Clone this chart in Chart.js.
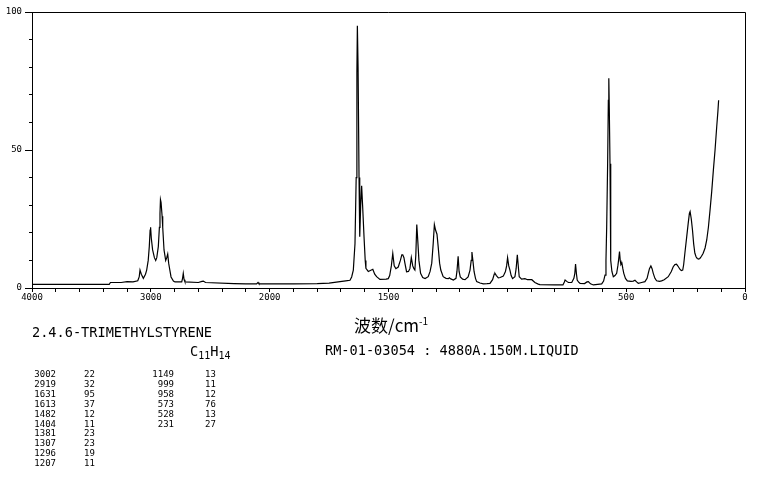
<!DOCTYPE html>
<html>
<head>
<meta charset="utf-8">
<script src="https://cdn.jsdelivr.net/npm/chart.js@4.4.1/dist/chart.umd.min.js"></script>
<style>
  html, body { margin: 0; padding: 0; background: #fff; }
  #wrap { position: relative; width: 761px; height: 477px; overflow: hidden; }
  #ramanChart { position: absolute; left: 0; top: 0; }
  .txt { position: absolute; font-family: "DejaVu Sans Mono", monospace; color: #000; white-space: pre; line-height: 1; }
  .cell { position: absolute; font-family: "DejaVu Sans Mono", monospace; font-size: 9px; line-height: 1; color: #000; }
  sub { font-size: 10px; vertical-align: -3px; line-height: 0; }
</style>
</head>
<body>
<div id="wrap">
  <canvas id="ramanChart" width="761" height="477"></canvas>
  <div class="txt" style="left:354px; top:316px; font-family:'Noto Sans CJK SC', sans-serif; font-size:17px;">波数/cm<sup style="font-size:10px; vertical-align:7px; line-height:0;">-1</sup></div>
  <div class="txt" style="left:32px; top:326px; font-size:13.6px;">2.4.6-TRIMETHYLSTYRENE</div>
  <div class="txt" style="left:190px; top:345px; font-size:13.6px;">C<sub>11</sub>H<sub>14</sub></div>
  <div class="txt" style="left:325px; top:344px; font-size:13.6px;">RM-01-03054 : 4880A.150M.LIQUID</div>
  <div id="peakTable"></div>
</div>

<script>
// spectrum (wavenumber in cm-1, intensity 0-100)
const wavenumbers = [
  4000, 3600, 3350, 3340, 3250, 3200, 3150, 3110, 3098, 3091, 3080, 3063, 3045, 3035, 3022, 3013,
  3006, 3002, 2996, 2985, 2970, 2959, 2950, 2937, 2928, 2923, 2919, 2914, 2905, 2900, 2889, 2875,
  2866, 2858, 2850, 2845, 2830, 2810, 2797, 2740, 2733, 2727, 2720, 2713, 2600, 2570, 2558, 2540,
  2300, 2200, 2110, 2098, 2090, 2000, 1900, 1800, 1750, 1704, 1680, 1662, 1655, 1648, 1641, 1636,
  1633, 1631, 1628, 1624, 1621, 1617, 1613, 1609, 1603, 1598, 1595, 1585, 1566, 1558, 1550, 1536,
  1510, 1501, 1495, 1488, 1482, 1476, 1469, 1459, 1450, 1444, 1440, 1435, 1431, 1424, 1416, 1410,
  1404, 1398, 1393, 1389, 1385, 1381, 1376, 1372, 1365, 1356, 1346, 1333, 1325, 1318, 1312, 1307,
  1302, 1296, 1291, 1285, 1280, 1270, 1258, 1248, 1244, 1238, 1227, 1216, 1212, 1207, 1203, 1198,
  1188, 1178, 1165, 1157, 1152, 1149, 1145, 1140, 1134, 1129, 1115, 1101, 1085, 1073, 1062, 1055,
  1052, 1046, 1038, 1030, 1017, 1008, 1003, 999, 994, 989, 984, 978, 968, 963, 958, 953,
  950, 940, 926, 915, 897, 884, 870, 863, 800, 766, 760, 757, 750, 743, 729, 720,
  716, 713, 709, 706, 700, 694, 675, 665, 659, 650, 638, 620, 603, 595, 589, 585,
  582, 578, 575, 573, 571, 568, 566, 564, 560, 554, 547, 540, 535, 532, 528, 525,
  522, 518, 514, 510, 503, 495, 480, 470, 463, 456, 449, 435, 421, 412, 407, 402,
  396, 391, 386, 379, 372, 360, 351, 340, 323, 310, 302, 295, 288, 281, 274, 268,
  262, 258, 253, 246, 239, 234, 231, 226, 221, 216, 211, 206, 201, 195, 190, 183,
  176, 168, 161, 154, 147, 140, 133, 126, 119, 114, 111
];
const intensities = [
  1.3, 1.3, 1.3, 2.0, 2.0, 2.3, 2.2, 2.6, 4, 6.5, 5, 3.5, 5, 6.5, 10, 15,
  21, 22, 18, 13.8, 11, 10, 11, 15, 22, 27, 32, 31, 26, 22, 13.8, 10,
  11, 12.3, 9, 7.7, 4, 2.5, 2.2, 2.2, 3.5, 5.3, 3, 2.2, 2.0, 2.4, 2.5, 2.0,
  1.6, 1.5, 1.5, 2.0, 1.5, 1.5, 1.5, 1.6, 1.8, 2.3, 2.6, 2.8, 4, 6.5, 16, 40,
  78, 95, 80, 40, 18.6, 30, 37, 30, 18.6, 10, 7.1, 6, 6.8, 5, 4.1, 3.1,
  3.2, 3.4, 4.5, 8, 12.5, 8, 7, 7.6, 10, 12, 12, 11, 9, 5.9, 6, 7,
  11, 8, 7, 6.5, 12, 23, 16, 10, 5.3, 3.8, 3.4, 4.1, 6, 9, 16, 23,
  21, 19.5, 15, 9, 6.5, 4.1, 3.5, 3.4, 3.7, 3.3, 2.9, 3.5, 6, 11.5, 6, 4,
  3.2, 3, 4, 6.5, 10, 13, 10, 6, 3.5, 2.3, 1.8, 1.5, 1.6, 1.7, 3, 5,
  5.3, 4.5, 3.7, 3.8, 4.3, 6, 8, 11, 8, 6.5, 4.5, 3.4, 4.1, 7, 12, 7,
  4.1, 3.2, 3.4, 3, 3, 2, 1.4, 1.2, 1.1, 1.1, 2.2, 2.9, 2.4, 2, 2, 3.5,
  5.3, 8.7, 5, 2.9, 2.1, 1.7, 1.6, 2.2, 2.3, 1.5, 1.1, 1.3, 1.5, 2.5, 4.7, 10,
  22, 45, 68, 76, 65, 45, 25, 10, 6, 4.1, 4.5, 5.3, 8, 10, 13.2, 10,
  8.5, 9, 7, 5.3, 3.5, 2.6, 2.4, 2.5, 2.8, 2.2, 1.7, 2, 2.3, 3.5, 5.3, 7,
  8, 7, 5.3, 3.5, 2.6, 2.4, 2.6, 3, 4.1, 6, 7.7, 8.5, 8.6, 7.8, 6.8, 6.3,
  6.5, 8.5, 12.6, 18, 23.4, 27, 27.7, 25, 21, 16, 12.6, 11.3, 10.7, 10.5, 10.7, 11.5,
  12.6, 14.5, 17.4, 22, 28.3, 35, 42.8, 50, 58.4, 64, 68
];

// peak list printed under the chart
const peakWn = [3002, 2919, 1631, 1613, 1482, 1404, 1381, 1307, 1296, 1207, 1149, 999, 958, 573, 528, 231];
const peakInt = [22, 32, 95, 37, 12, 11, 23, 23, 19, 11, 13, 11, 12, 76, 13, 27];

// tick labels
const xTickLabels = [4000, 3000, 2000, 1500, 500, 0];
const yTickLabels = [0, 50, 100];

// the axis is compressed 2:1 above 2000 cm-1
function toAxis(wn) {
  return wn >= 2000 ? (4000 - wn) / 2 : 1000 + (2000 - wn);
}
function fromAxis(u) {
  return u <= 1000 ? 4000 - 2 * u : 3000 - u;
}

const points = wavenumbers.map((wn, i) => ({ x: toAxis(wn), y: intensities[i] }));

const tickFont = { family: "DejaVu Sans Mono", size: 9 };

const framePlugin = {
  id: "frame",
  afterDraw(chart) {
    const { ctx, chartArea: a } = chart;
    ctx.save();
    ctx.strokeStyle = "#000";
    ctx.lineWidth = 1;
    ctx.beginPath();
    ctx.moveTo(a.left, a.top + 0.5);
    ctx.lineTo(a.right + 0.5, a.top + 0.5);
    ctx.lineTo(a.right + 0.5, a.bottom);
    ctx.stroke();
    ctx.restore();
  }
};

new Chart(document.getElementById("ramanChart"), {
  type: "line",
  data: {
    datasets: [{
      data: points,
      borderColor: "#000",
      borderWidth: 1.2,
      pointRadius: 0,
      tension: 0,
      fill: false
    }]
  },
  options: {
    responsive: false,
    animation: false,
    layout: { padding: { left: 0, top: 12, right: 16, bottom: 169 } },
    plugins: { legend: { display: false }, tooltip: { enabled: false } },
    scales: {
      x: {
        type: "linear",
        min: 0,
        max: 3000,
        afterFit: (s) => { s.height = 20; },
        grid: { drawOnChartArea: false, tickLength: 4, color: "#000" },
        border: { display: true, color: "#000", width: 1 },
        ticks: {
          stepSize: 100,
          autoSkip: false,
          maxRotation: 0,
          padding: 0,
          color: "#000",
          font: tickFont,
          callback: (v) => {
            const wn = Math.round(fromAxis(v));
            return xTickLabels.includes(wn) ? String(wn) : "";
          }
        }
      },
      yMinor: {
        type: "linear",
        position: "left",
        weight: 0,
        min: 0,
        max: 100,
        afterFit: (s) => { s.width = 0; },
        grid: { drawOnChartArea: false, tickLength: 3, color: "#000" },
        border: { display: false },
        ticks: { stepSize: 10, display: false }
      },
      y: {
        type: "linear",
        position: "left",
        weight: 1,
        min: 0,
        max: 100,
        afterFit: (s) => { s.width = 32; },
        grid: { drawOnChartArea: false, tickLength: 7, color: "#000" },
        border: { display: true, color: "#000", width: 1 },
        ticks: {
          stepSize: 50,
          padding: 3,
          color: "#000",
          font: tickFont,
          callback: (v) => yTickLabels.includes(v) ? String(v) : ""
        }
      }
    }
  },
  plugins: [framePlugin]
});

// peak table: two blocks of ten rows
const table = document.getElementById("peakTable");
peakWn.forEach((wn, i) => {
  const col = Math.floor(i / 10);
  const row = i % 10;
  const top = 370 + row * 9.9;
  const wnCell = document.createElement("div");
  wnCell.className = "cell";
  wnCell.style.top = top + "px";
  wnCell.style.left = (col ? 150 : 32) + "px";
  wnCell.style.width = "24px";
  wnCell.style.textAlign = "right";
  wnCell.textContent = wn;
  const intCell = document.createElement("div");
  intCell.className = "cell";
  intCell.style.top = top + "px";
  intCell.style.left = (col ? 205 : 84) + "px";
  intCell.textContent = peakInt[i];
  table.appendChild(wnCell);
  table.appendChild(intCell);
});
</script>
</body>
</html>
